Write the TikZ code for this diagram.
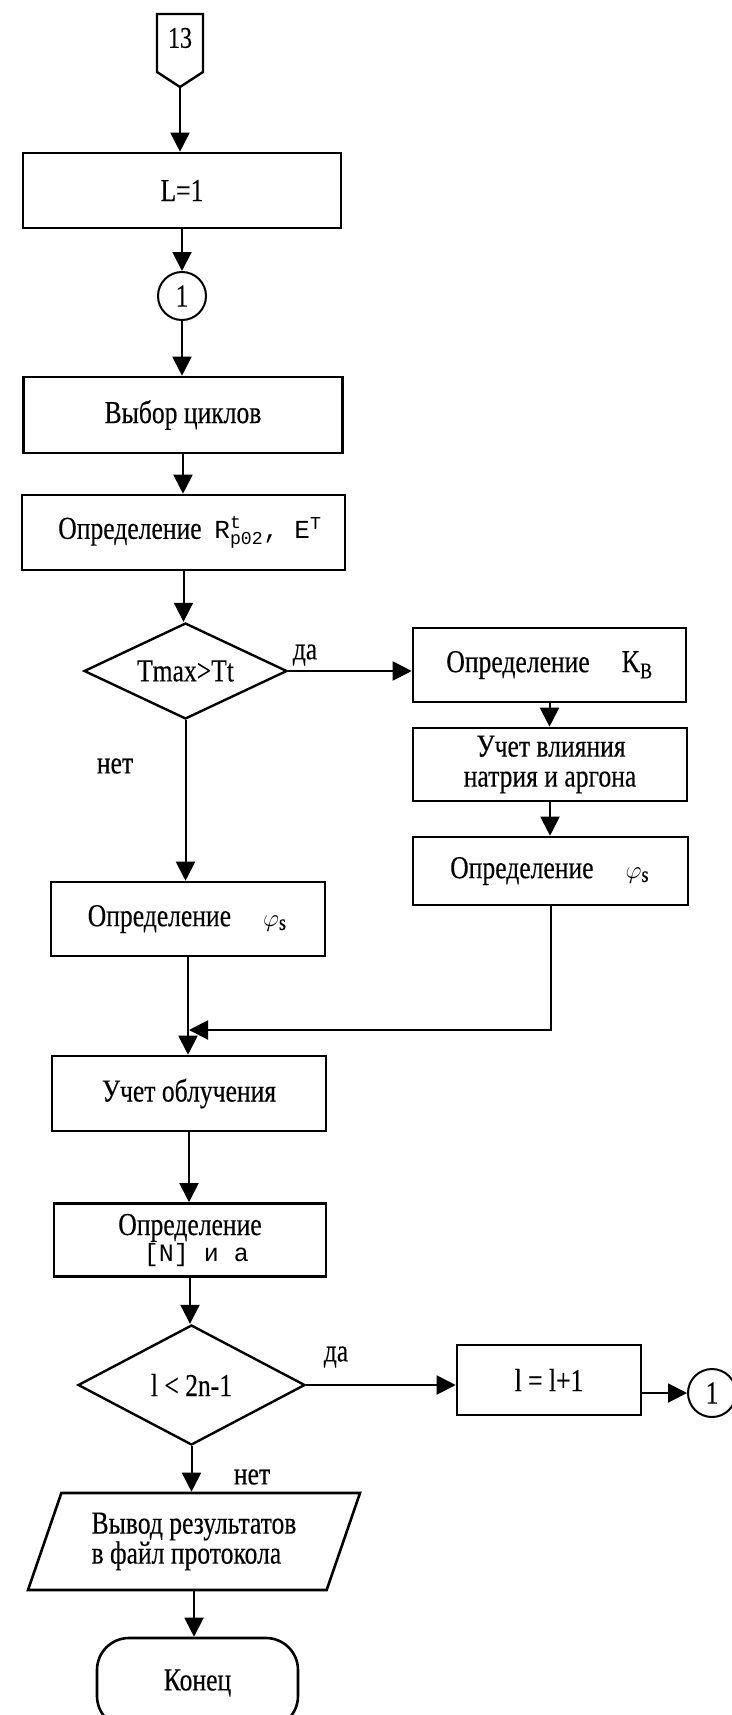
\documentclass[tikz,border=0pt]{standalone}
\usepackage{amsmath}
\usepackage{fontspec}
\setmainfont{Liberation Serif}[FakeStretch=0.8,FakeBold=0.3]
\setmonofont{Liberation Mono}
\usepackage{tikz}
\usetikzlibrary{arrows.meta,shapes.geometric}

\begin{document}
\begin{tikzpicture}[x=1pt,y=-1pt,line width=2pt,
    every node/.style={font=\fontsize{32}{30}\selectfont},
    blk/.style={draw,rectangle,line width=2.6pt,inner sep=0pt},
    cond/.style={draw,diamond,line width=2.4pt,inner sep=0pt},
    conn/.style={draw,circle,line width=2pt,inner sep=0pt,minimum size=48pt},
    arr/.style={-{Triangle[length=19pt,width=19pt]}}]
    \useasboundingbox (0,0) rectangle (731,1715);
    % off-page connector
    \draw[line width=2.4pt] (157,14) -- (203,14) -- (203,72) -- (180,87) -- (157,72) -- cycle;
    \node[font=\fontsize{30}{30}\selectfont] (n13) at (180,38) {13};
    \coordinate (n13tip) at (180,87);
    % main column
    \node[blk,minimum width=318pt,minimum height=75pt] (L1) at (182,190.5) {L=1};
    \node[conn] (c1) at (182,296) {1};
    \node[blk,minimum width=319pt,minimum height=76pt] (cyc) at (183,415) {Выбор циклов};
    \node[blk,minimum width=323pt,minimum height=75pt] (defR) at (183.5,532.5)
        {\ \ Определение\ \ {\ttfamily\fontsize{26}{28}\selectfont $\text{R}^{\text{t}}_{\text{p02}}$, E$^{\text{T}}$}};
    \node[cond,aspect=2.1,minimum width=203pt,minimum height=96pt] (d1) at (185.5,671) {Tmax>Tt};
    % right branch
    \node[blk,minimum width=273pt,minimum height=74pt] (kb) at (549.5,665) {Определение\quad K\textsubscript{B}};
    \node[blk,minimum width=274pt,minimum height=73pt,align=left] (infl) at (550,764.5)
        {\ \ Учет влияния\\натрия и аргона};
    \node[blk,minimum width=275pt,minimum height=68pt] (phiR) at (550.5,871) {Определение\quad $\varphi_{\mathrm{s}}$};
    % left branch
    \node[blk,minimum width=274pt,minimum height=74pt] (phiL) at (188,919) {Определение\quad $\varphi_{\mathrm{s}}$};
    \node[blk,minimum width=274pt,minimum height=75pt] (irr) at (189,1093.5) {Учет облучения\qquad};
    \node[blk,minimum width=272pt,minimum height=73pt,align=left] (defN) at (190,1240)
        {Определение\\[-4pt]\hspace{0.8em}{\ttfamily\fontsize{25}{27}\selectfont [N] и a}};
    \node[cond,aspect=1.9,minimum width=227pt,minimum height=120pt] (d2) at (191.5,1385) {l < 2n-1};
    \node[blk,minimum width=184pt,minimum height=70pt] (inc) at (549,1380) {l = l+1};
    \node[conn] (c1r) at (712,1393) {1};
    \node[draw,trapezium,trapezium left angle=60,trapezium right angle=120,trapezium stretches body,
        line width=2.6pt,inner sep=0pt,minimum width=332pt,minimum height=97pt,align=left] (out) at (194,1541.5)
        {Вывод результатов\\в файл протокола};
    \node[blk,rounded corners=32pt,minimum width=201pt,minimum height=90pt] (fin) at (197.5,1683) {Конец};
    % labels
    \node (yes1) at (305,655) {да};
    \node (no1) at (115,766) {нет};
    \node (yes2) at (336,1357) {да};
    \node (no2) at (252,1477) {нет};
    % connectors
    \draw[arr] (n13tip) -- (n13tip |- L1.north);
    \draw[arr] (L1.south) -- (L1.south |- c1.north);
    \draw[arr] (c1.south) -- (c1.south |- cyc.north);
    \draw[arr] (cyc.south) -- (cyc.south |- defR.north);
    \draw[arr] (defR.south) -- (defR.south |- d1.north);
    \draw[arr] (d1.east) -- (d1.east -| kb.west);
    \draw[arr] (kb.south) -- (kb.south |- infl.north);
    \draw[arr] (infl.south) -- (infl.south |- phiR.north);
    \draw[arr] (d1.south) -- (d1.south |- phiL.north);
    \coordinate (merge) at (189,1030);
    \draw[arr] (phiL.south) -- (phiL.south |- irr.north);
    \draw[arr] (phiR.south) |- (merge);
    \draw[arr] (irr.south) -- (irr.south |- defN.north);
    \draw[arr] (defN.south) -- (defN.south |- d2.north);
    \draw[arr] (d2.east) -- (d2.east -| inc.west);
    \draw[arr] (inc.east |- c1r.west) -- (c1r.west);
    \draw[arr] (d2.south) -- (d2.south |- out.north);
    \draw[arr] (out.south) -- (out.south |- fin.north);
\end{tikzpicture}
\end{document}
